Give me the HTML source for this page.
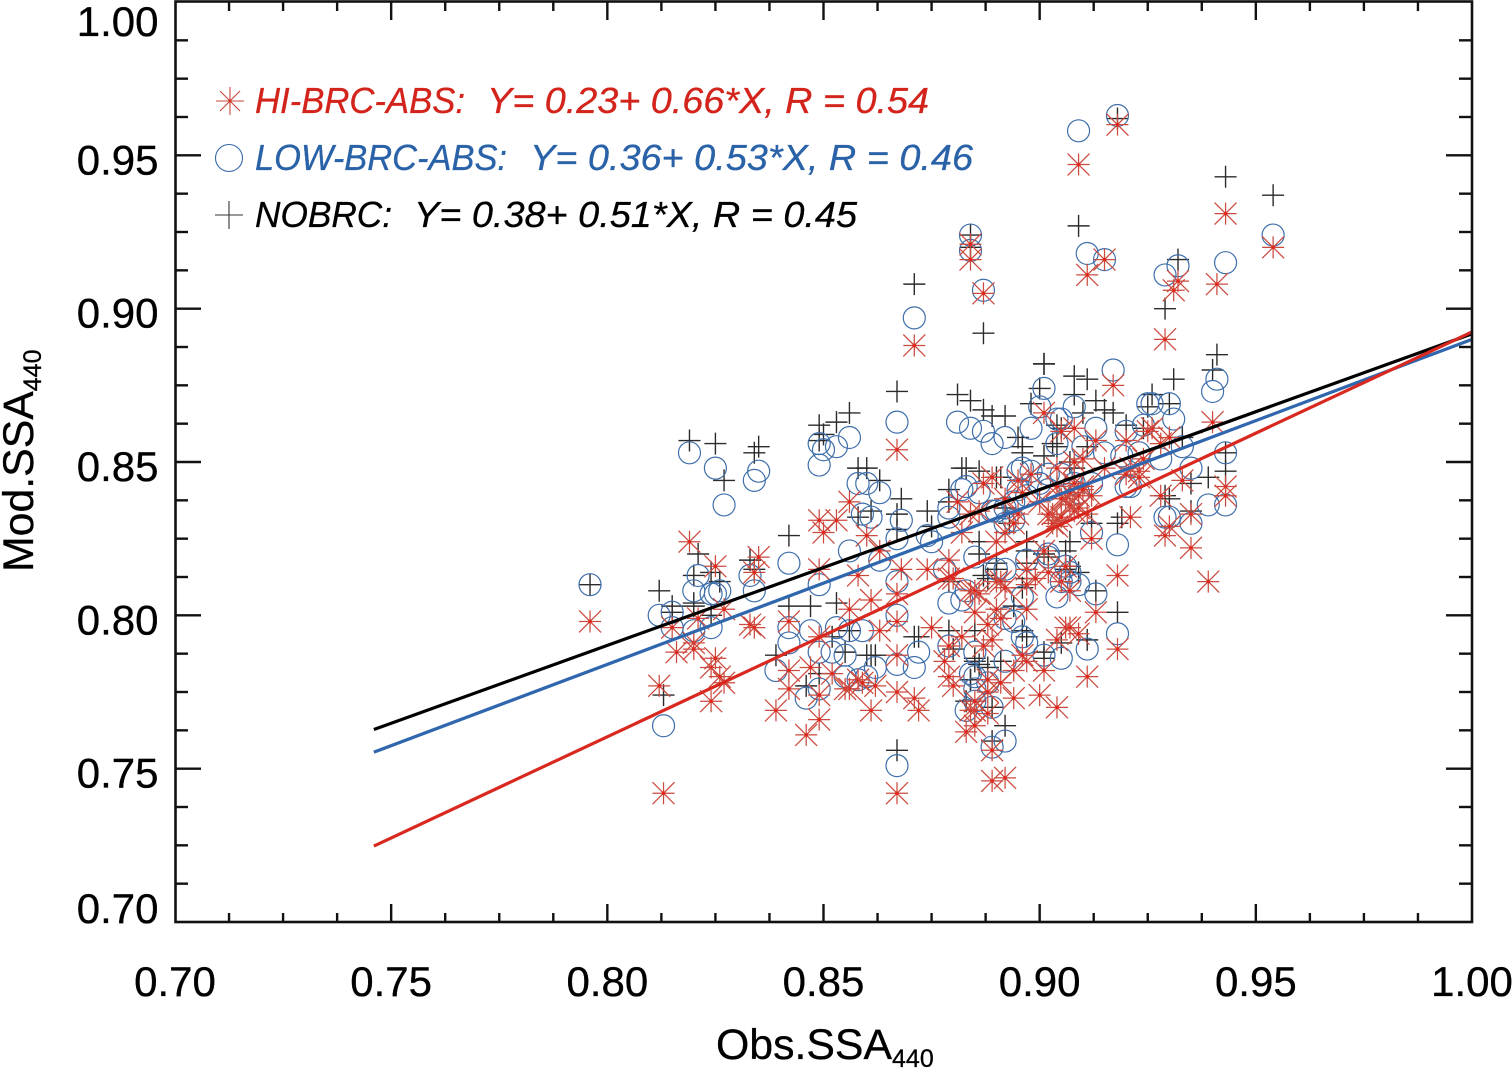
<!DOCTYPE html>
<html lang="en">
<head>
<meta charset="utf-8">
<title>Obs vs Mod SSA440</title>
<style>
html,body{margin:0;padding:0;background:#fff;width:1512px;height:1073px;overflow:hidden}
svg{display:block}
text{font-family:"Liberation Sans",Arial,sans-serif;white-space:pre}
</style>
</head>
<body>
<svg id="chart" xmlns="http://www.w3.org/2000/svg" width="1512" height="1073" viewBox="0 0 1512 1073">
  <rect x="0" y="0" width="1512" height="1073" fill="#ffffff"/>
  <g id="points-no"></g>
  <g id="points-low"></g>
  <g id="points-hi"></g>
  <g id="fit-lines"></g>
  <g id="axes"></g>
  <rect x="175.5" y="1.5" width="1296.5" height="920.5" fill="none" stroke="#111" stroke-width="2.6"/>

  <g>
    <path d="M216 101H244M230 87V115M220 91L240 111M240 91L220 111" stroke="#c8483c" stroke-width="1.1" fill="none"/>
    <circle cx="230" cy="101" r="1.4" fill="#d9281f"/>
    <text x="255" y="113" font-size="36" font-style="italic" fill="#d3241c" stroke="#d3241c" stroke-width="0.3" textLength="210" lengthAdjust="spacingAndGlyphs">HI-BRC-ABS:</text>
    <text x="487" y="113" font-size="36" font-style="italic" fill="#d3241c" stroke="#d3241c" stroke-width="0.3" textLength="442" lengthAdjust="spacingAndGlyphs">Y= 0.23+ 0.66*X, R = 0.54</text>
    <circle cx="229" cy="158" r="13.5" fill="none" stroke="#3a6aa8" stroke-width="1.1"/>
    <text x="255" y="170" font-size="36" font-style="italic" fill="#2a62a8" stroke="#2a62a8" stroke-width="0.3" textLength="252" lengthAdjust="spacingAndGlyphs">LOW-BRC-ABS:</text>
    <text x="530" y="170" font-size="36" font-style="italic" fill="#2a62a8" stroke="#2a62a8" stroke-width="0.3" textLength="443" lengthAdjust="spacingAndGlyphs">Y= 0.36+ 0.53*X, R = 0.46</text>
    <path d="M215 215H243M229 201V229" stroke="#333" stroke-width="1.1" fill="none"/>
    <text x="255" y="227" font-size="36" font-style="italic" fill="#000" stroke="#000" stroke-width="0.3" textLength="137" lengthAdjust="spacingAndGlyphs">NOBRC:</text>
    <text x="414" y="227" font-size="36" font-style="italic" fill="#000" stroke="#000" stroke-width="0.3" textLength="443" lengthAdjust="spacingAndGlyphs">Y= 0.38+ 0.51*X, R = 0.45</text>
  </g>

  <text x="716" y="1059" font-size="42.8" fill="#000" stroke="#000" stroke-width="0.3">Obs.SSA<tspan font-size="25" dy="8">440</tspan></text>
  <text transform="translate(33,572) rotate(-90)" font-size="42.8" fill="#000" stroke="#000" stroke-width="0.3">Mod.SSA<tspan font-size="25" dy="8">440</tspan></text>
</svg>

<script>
const xTickLabels = ["0.70","0.75","0.80","0.85","0.90","0.95","1.00"];
const yTickLabels = ["0.70","0.75","0.80","0.85","0.90","0.95","1.00"];
const fitNames = ["nobrc","low-brc-abs","hi-brc-abs"];
const fitIntercepts = [0.3838,0.360,0.2324];
const fitSlopes = [0.508,0.530,0.660];
const fitRange = [0.746,1.0];

const hiBrcPoints = [
[.796,.798],[.812,.777],[.813,.742],[.815,.796],[.816,.788],[.820,.791],[.820,.789],[.821,.799],[.827,.802],[.825,.786],
[.824,.783],[.826,.780],[.827,.778],[.824,.772],[.833,.797],[.834,.796],[.842,.798],[.849,.793],[.856,.802],[.842,.782],
[.847,.783],[.842,.776],[.839,.769],[.849,.774],[.849,.766],[.846,.761],[.852,.781],[.855,.776],[.856,.776],[.858,.779],
[.819,.824],[.825,.816],[.835,.819],[.834,.814],[.849,.815],[.849,.831],[.853,.831],[.850,.827],[.856,.837],[.858,.813],
[.867,.775],[.871,.773],[.872,.769],[.861,.769],[.862,.777],[.859,.778],[.867,.742],[.889,.746],[.892,.747],[.889,.756],
[.883,.762],[.885,.764],[.888,.768],[.884,.769],[.885,.769],[.885,.772],[.888,.775],[.891,.778],[.894,.782],[.894,.773],
[.900,.774],[.901,.782],[.897,.785],[.880,.777],[.879,.780],[.878,.785],[.888,.779],[.904,.770],
[.860,.826],[.863,.821],[.868,.815],[.874,.815],[.879,.818],[.867,.807],[.861,.805],[.867,.798],[.863,.795],[.875,.796],
[.867,.787],[.882,.827],[.890,.824],[.892,.827],[.894,.830],[.882,.793],[.879,.790],[.887,.790],[.889,.792],[.888,.797],
[.885,.801],[.891,.799],[.897,.802],[.890,.802],[.879,.812],[.880,.812],[.884,.808],[.886,.807],[.885,.808],[.890,.811],
[.891,.811],[.892,.809],[.897,.810],[.897,.815],[.899,.812],[.902,.814],[.901,.821],[.904,.792],[.896,.787],
[.867,.854],[.871,.888],[.901,.866],[.889,.845],[.887,.843],[.881,.837],[.886,.834],[.884,.833],[.892,.838],[.896,.840],
[.900,.837],[.898,.846],[.895,.844],[.904,.848],[.904,.842],[.903,.833],[.895,.833],
[.929,.890],[.917,.875],[.940,.863],[.926,.861],[.925,.860],[.930,.858],[.913,.857],[.920,.857],[.905,.860],[.908,.861],
[.924,.851],[.928,.856],[.915,.848],[.910,.851],[.908,.850],[.921,.848],[.923,.847],[.923,.845],[.920,.846],[.933,.844],
[.928,.839],[.943,.842],[.943,.839],[.935,.833],[.921,.832],[.910,.842],[.912,.839],[.908,.834],[.911,.833],
[.930,.829],[.929,.826],[.935,.822],[.939,.811],[.912,.825],[.903,.830],[.906,.816],[.905,.811],[.907,.808],[.918,.813],
[.913,.801],[.906,.796],[.907,.796],[.909,.794],[.918,.789],[.911,.780],
[.918,.960],[.909,.947],[.884,.921],[.884,.916],[.887,.905],[.915,.916],[.911,.911],[.943,.931],[.954,.920],[.932,.909],
[.931,.906],[.941,.908],[.906,.838],[.907,.836],[.909,.839],[.904,.831],
[.905,.838],[.908,.843],[.909,.835],[.902,.833],[.904,.829],[.905,.832],[.907,.840],[.910,.841]
];

const lowBrcPoints = [
[.819,.853],[.825,.848],[.827,.836],[.834,.844],[.835,.847],[.849,.856],[.850,.854],[.853,.855],[.856,.858],[.849,.849],
[.856,.821],[.842,.817],[.821,.813],[.820,.808],[.824,.807],[.826,.808],[.825,.807],[.834,.808],[.833,.813],[.849,.810],
[.796,.810],[.812,.800],[.815,.801],[.820,.795],[.824,.796],[.815,.796],[.813,.764],[.842,.796],[.842,.791],[.847,.795],
[.839,.782],[.846,.773],[.849,.776],[.849,.788],[.852,.788],[.855,.787],[.853,.796],[.856,.795],[.855,.780],[.858,.779],[.858,.843],
[.867,.863],[.881,.863],[.884,.861],[.887,.860],[.889,.856],[.892,.858],[.898,.861],[.901,.874],[.900,.868],[.904,.864],
[.904,.856],[.860,.843],[.863,.840],[.868,.831],[.859,.833],[.879,.835],[.882,.841],[.883,.842],[.886,.840],[.889,.834],
[.895,.847],[.896,.848],[.898,.847],[.902,.846],[.892,.835],[.890,.834],[.894,.837],[.900,.843],[.897,.839],
[.861,.832],[.867,.825],[.874,.826],[.875,.824],[.863,.818],[.879,.832],[.867,.811],[.867,.800],[.859,.795],[.878,.815],
[.879,.804],[.885,.819],[.890,.815],[.897,.818],[.902,.819],[.896,.806],[.904,.806],[.892,.799],[.879,.790],[.872,.788],
[.871,.783],[.867,.784],[.862,.783],[.860,.780],[.885,.788],[.892,.785],[.896,.793],[.897,.791],[.901,.787],[.885,.780],[.888,.778],
[.867,.751],[.889,.757],[.892,.759],[.889,.770],[.883,.769],[.885,.772],[.885,.776],[.884,.781],
[.917,.880],[.940,.873],[.941,.877],[.926,.869],[.925,.869],[.930,.869],[.931,.864],[.908,.868],[.905,.864],[.913,.861],
[.920,.860],[.924,.862],[.915,.853],[.910,.855],[.919,.852],[.923,.853],[.928,.851],[.933,.855],[.935,.848],[.943,.853],
[.939,.836],[.943,.836],[.921,.842],[.912,.843],[.908,.843],[.902,.841],
[.929,.832],[.930,.832],[.912,.827],[.918,.823],[.935,.830],[.902,.820],[.906,.816],[.907,.814],[.909,.810],[.907,.811],
[.905,.811],[.913,.807],[.918,.794],[.911,.789],[.905,.786],
[.918,.963],[.909,.958],[.884,.924],[.884,.919],[.887,.906],[.915,.916],[.911,.918],[.871,.897],[.943,.915],[.954,.924],
[.932,.914],[.929,.911],
[.905,.846],[.909,.840],[.895,.841],[.892,.830],[.920,.842],[.894,.831],[.892,.815],[.894,.798],[.882,.805],[.883,.808]
];

const noBrcPoints = [
[.819,.857],[.825,.856],[.827,.844],[.834,.853],[.835,.855],[.849,.862],[.850,.859],[.849,.857],[.853,.863],[.856,.866],
[.842,.826],[.821,.820],[.820,.813],[.824,.814],[.826,.811],[.833,.818],[.834,.815],[.796,.810],[.812,.808],[.815,.803],
[.820,.804],[.842,.803],[.847,.803],[.853,.804],[.858,.832],[.858,.848],[.813,.774],[.839,.787],[.846,.777],[.849,.781],
[.852,.793],[.855,.788],[.856,.795],[.815,.801],[.820,.803],[.824,.800],
[.867,.873],[.881,.872],[.884,.870],[.887,.867],[.889,.865],[.892,.865],[.895,.858],[.896,.855],[.901,.882],[.900,.874],
[.898,.869],[.904,.862],[.901,.852],[.860,.848],[.863,.844],[.868,.838],[.861,.834],[.874,.834],[.867,.833],[.882,.848],
[.883,.848],[.879,.841],[.886,.847],[.890,.845],[.879,.837],[.896,.853],
[.875,.829],[.867,.828],[.879,.811],[.886,.820],[.890,.815],[.897,.821],[.901,.820],[.894,.803],[.887,.813],[.888,.812],
[.896,.795],[.897,.793],[.901,.788],[.871,.793],[.872,.793],[.861,.787],[.860,.787],[.862,.787],[.879,.795],[.880,.789],
[.885,.795],[.891,.785],[.888,.783],[.884,.779],[.886,.784],[.897,.812],
[.867,.756],[.889,.759],[.892,.764],[.889,.770],[.883,.772],[.884,.779],[.885,.785],
[.941,.885],[.940,.880],[.931,.877],[.926,.872],[.925,.868],[.930,.869],[.901,.882],[.908,.878],[.911,.877],[.908,.872],
[.913,.870],[.915,.867],[.917,.866],[.920,.862],[.910,.866],[.905,.861],[.924,.861],[.933,.858],[.911,.855],[.903,.856],
[.943,.853],[.943,.847],[.939,.845],[.935,.843],[.929,.839],[.930,.838],[.935,.834],[.908,.848],[.919,.832],
[.912,.830],[.918,.830],[.907,.824],[.906,.821],[.902,.819],[.909,.814],[.907,.816],[.913,.808],[.918,.801],[.911,.792],
[.905,.791],[.901,.786],
[.918,.962],[.909,.927],[.884,.924],[.884,.920],[.871,.908],[.887,.892],[.943,.943],[.954,.937],[.932,.916],[.929,.900],
[.904,.855],[.891,.845],[.907,.850],[.893,.830],[.886,.824],[.892,.835],[.897,.824],[.885,.786],[.890,.817],[.897,.817],[.906,.815],[.896,.809]
];

const SVG_NS = "http://www.w3.org/2000/svg";
const X_MIN = 0.70, X_MAX = 1.00, Y_MIN = 0.70, Y_MAX = 1.00;
const PLOT_LEFT = 175, PLOT_RIGHT = 1472, PLOT_TOP = 2, PLOT_BOTTOM = 922;
const MARK_R = 11;

function xScale(v) { return PLOT_LEFT + (v - X_MIN) / (X_MAX - X_MIN) * (PLOT_RIGHT - PLOT_LEFT); }
function yScale(v) { return PLOT_BOTTOM - (v - Y_MIN) / (Y_MAX - Y_MIN) * (PLOT_BOTTOM - PLOT_TOP); }
function make(tag) { return document.createElementNS(SVG_NS, tag); }

const hiGroup = document.getElementById("points-hi");
const lowGroup = document.getElementById("points-low");
const noGroup = document.getElementById("points-no");
const lineGroup = document.getElementById("fit-lines");
const axisGroup = document.getElementById("axes");

noBrcPoints.forEach(function (p) {
  const cx = xScale(p[0]), cy = yScale(p[1]);
  const el = make("path");
  
  
  el.setAttribute("d", "M" + (cx - MARK_R) + " " + cy + "H" + (cx + MARK_R) + "M" + cx + " " + (cy - MARK_R) + "V" + (cy + MARK_R));
  el.setAttribute("stroke", "#2b2b2b");
  el.setAttribute("stroke-width", "1.4");
  el.setAttribute("fill", "none");
  noGroup.appendChild(el);
});

lowBrcPoints.forEach(function (p) {
  const el = make("circle");
  
  
  el.setAttribute("cx", xScale(p[0]));
  el.setAttribute("cy", yScale(p[1]));
  el.setAttribute("r", MARK_R);
  el.setAttribute("stroke", "#3f6fab");
  el.setAttribute("stroke-width", "1.2");
  el.setAttribute("fill", "none");
  lowGroup.appendChild(el);
});

hiBrcPoints.forEach(function (p) {
  const cx = xScale(p[0]), cy = yScale(p[1]), r = MARK_R;
  const el = make("path");
  
  
  el.setAttribute("d", "M" + (cx - r) + " " + cy + "H" + (cx + r) +
    "M" + cx + " " + (cy - r) + "V" + (cy + r) +
    "M" + (cx - r) + " " + (cy - r) + "L" + (cx + r) + " " + (cy + r) +
    "M" + (cx + r) + " " + (cy - r) + "L" + (cx - r) + " " + (cy + r));
  el.setAttribute("stroke", "#cc4a3e");
  el.setAttribute("stroke-width", "1.25");
  el.setAttribute("fill", "none");
  hiGroup.appendChild(el);
  const dot = make("circle");
  
  
  dot.setAttribute("cx", cx);
  dot.setAttribute("cy", cy);
  dot.setAttribute("r", "1.8");
  dot.setAttribute("fill", "#e0281f");
  hiGroup.appendChild(dot);
});

const fitColors = ["#000000", "#2f66ad", "#d9281f"];
fitNames.forEach(function (name, i) {
  const el = make("line");
  
  
  el.setAttribute("x1", xScale(fitRange[0]));
  el.setAttribute("y1", yScale(fitIntercepts[i] + fitSlopes[i] * fitRange[0]));
  el.setAttribute("x2", xScale(fitRange[1]));
  el.setAttribute("y2", yScale(fitIntercepts[i] + fitSlopes[i] * fitRange[1]));
  el.setAttribute("stroke", fitColors[i]);
  el.setAttribute("stroke-width", "3.2");
  lineGroup.appendChild(el);
});

function addTick(x1, y1, x2, y2) {
  const el = make("line");
  
  
  el.setAttribute("x1", x1);
  el.setAttribute("y1", y1);
  el.setAttribute("x2", x2);
  el.setAttribute("y2", y2);
  el.setAttribute("stroke", "#111");
  el.setAttribute("stroke-width", "2.4");
  axisGroup.appendChild(el);
}

const tickSteps = 24;
for (let i = 1; i < tickSteps; i++) {
  const major = i % 4 === 0;
  const xv = X_MIN + (X_MAX - X_MIN) * i / tickSteps;
  const yv = Y_MIN + (Y_MAX - Y_MIN) * i / tickSteps;
  const xLen = major ? 18 : 9;
  const yLen = major ? 26 : 13;
  addTick(xScale(xv), PLOT_BOTTOM, xScale(xv), PLOT_BOTTOM - xLen);
  addTick(xScale(xv), PLOT_TOP, xScale(xv), PLOT_TOP + xLen);
  addTick(PLOT_LEFT, yScale(yv), PLOT_LEFT + yLen, yScale(yv));
  addTick(PLOT_RIGHT, yScale(yv), PLOT_RIGHT - yLen, yScale(yv));
}

xTickLabels.forEach(function (label) {
  const el = make("text");
  
  
  el.setAttribute("x", xScale(parseFloat(label)));
  el.setAttribute("y", 996);
  el.setAttribute("font-size", "42");
  el.setAttribute("text-anchor", "middle");
  el.setAttribute("fill", "#000");
  el.setAttribute("stroke", "#000");
  el.setAttribute("stroke-width", "0.35");
  el.textContent = label;
  axisGroup.appendChild(el);
});

yTickLabels.forEach(function (label) {
  const v = parseFloat(label);
  const nudge = v === Y_MAX ? 34 : (v === Y_MIN ? 1 : 19);
  const el = make("text");
  
  
  el.setAttribute("x", 158.5);
  el.setAttribute("y", yScale(v) + nudge);
  el.setAttribute("font-size", "42");
  el.setAttribute("text-anchor", "end");
  el.setAttribute("fill", "#000");
  el.setAttribute("stroke", "#000");
  el.setAttribute("stroke-width", "0.35");
  el.textContent = label;
  axisGroup.appendChild(el);
});
</script>
</body>
</html>
